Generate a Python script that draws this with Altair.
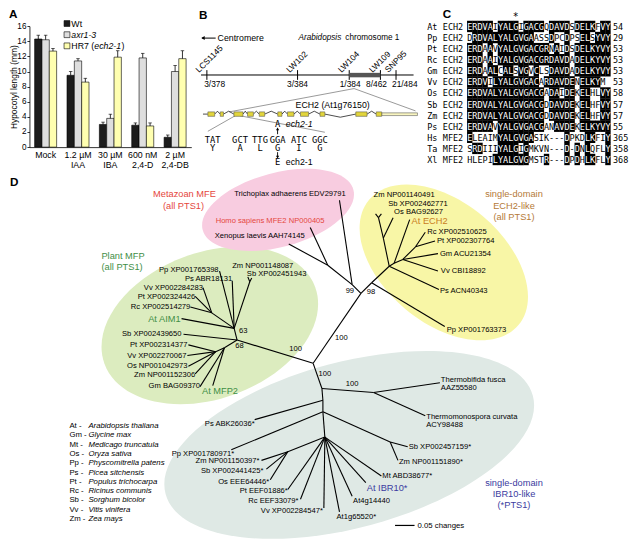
import altair as alt
import pandas as pd
from collections import Counter

# ---------------- frame ----------------
W, H = 622, 532          # drawing size in the browser
RW, RH = 638, 548        # reference picture frame (data coordinates)
K = W / RW
KY = H / RH
FONT = "Liberation Sans"
MONO = "DejaVu Sans Mono"

# ---------------- Panel A data ----------------
treatments = ["Mock", "1.2 µM|IAA", "30 µM|IBA", "600 nM|2,4-D", "2 µM|2,4-DB"]
genotypes = ["Wt", "axr1-3", "HR7 (ech2-1)"]
wt_mean = [14.3, 9.5, 3.0, 2.9, 1.3]
wt_err = [0.5, 0.5, 0.3, 0.3, 0.3]
axr_mean = [14.2, 11.4, 3.8, 11.8, 10.0]
axr_err = [0.6, 0.3, 0.55, 0.6, 0.8]
hr7_mean = [12.7, 8.6, 11.9, 2.8, 11.7]
hr7_err = [0.35, 0.5, 0.85, 0.4, 1.05]
bar_colors = ["#1c1c1c", "#dedede", "#ffffb0"]
y_ticks = [0, 2, 4, 6, 8, 10, 12, 14, 16]

# ---------------- Panel B data ----------------
markers = ["LCS1145", "LW102", "LW104", "LW109", "SNP95"]
marker_pos = [204, 297, 350, 382, 398]
marker_counts = ["3/378", "3/384", "1/384", "8/462", "21/484"]
count_pos = [212, 297, 351, 378, 407]
exons = [(205, 212), (217.7, 221), (231.7, 241), (245.7, 251.7), (257.7, 263.3), (276.7, 281),
         (286.7, 293.3), (300, 308.3), (320, 325), (356.7, 368.3), (377.7, 383.3)]
codons = ["TAT", "GCT", "TTG", "GGA", "ATC", "GGC"]
aminos = ["Y", "A", "L", "G", "I", "G"]

# ---------------- Panel C data ----------------
codes = ["At", "Pp", "Pt", "Rc", "Gm", "Vv", "Os", "Sb", "Zm", "Ps", "Hs", "Ta", "Xl"]
genes = ["ECH2"] * 10 + ["MFE2"] * 3
seqs = [
    "ERDVAIYALGIGACGQDAVDSDELKFVY",
    "DRDVALYALGVGAASSDPCDPSELSYVY",
    "ERDAAVYALGVGACGRNAIDSDELKYVY",
    "ERDAAIYALGVGACGRDAVDADELKYVY",
    "ERDAALCALSVGVCLSDAVDADELKYVY",
    "ERDVILYALGVGACARDAVDENELKYM ",
    "ERDVALYALGVGACGADAIDEKELHLVY",
    "ERDVALYALGVGACGDDAVDEKELHFVY",
    "ERDVALYALGVGACGDDAVDEKELHFVY",
    "ERDVAVYALGVGACGANAVDEKELKYVY",
    "ELEAIMYALGVGASIK---DPKDLKFIY",
    "SRDIIIYALGIGMKVN---D-DNLQFLY",
    "HLEPILYALGVGMSTR---DPDHLKFLY",
]
ends = [54, 29, 53, 53, 53, 53, 58, 57, 57, 55, 365, 358, 368]

# ---------------- Panel D data ----------------
nodes = {
    "C0": (313, 366), "N98": (362, 294), "N99": (353, 285), "Nmz": (328, 265),
    "Trichoplax": (340, 198), "Homo": (310, 226), "Xenopus": (288, 243),
    "Npp": (373, 283), "Pp763373": (448, 328), "Nech": (391, 266), "PsACN": (442, 290),
    "Nmono": (385, 237), "Nzs": (380, 216), "Zm140491": (377, 212), "Sb462771": (383, 212),
    "OsBAG": (395, 216), "Nech2": (396, 263), "AtECH2": (412, 218), "Ndic": (405, 259),
    "GmACU": (441, 253), "VvCBI": (441, 271), "Nrp": (418, 246), "Rc510625": (428, 231),
    "Pt307764": (438, 240),
    "N68": (235, 342), "N63": (232, 330), "Sb439650": (180, 336), "Nb": (222, 350),
    "Nc": (213, 354), "Pt314377": (185, 347), "Vv270067": (184, 358), "Os042973": (185, 369),
    "Zm152306": (192, 377), "GmBAG": (197, 390), "AtMFP2": (210, 389), "AtAIM1": (178, 320),
    "PsABR": (230, 281), "Nzs2": (248, 282), "Zm148087": (246, 277), "Sb451943": (250, 278),
    "Pp765398": (217, 271), "Nvpr": (209, 314), "Vv284283": (200, 288), "Pt324426": (192, 297),
    "Rc514279": (187, 308),
    "Nibr": (322, 392), "NTh": (375, 396), "Tfusca": (443, 386), "Tcurv": (428, 420),
    "Nb1": (323, 404), "PsABK": (253, 424), "Nb2": (323, 416), "Pp780971": (229, 455),
    "Nsz": (392, 447), "Sb457159": (410, 452), "Zm151890": (400, 466), "Nlow": (325, 442),
    "Nmono2": (287, 457), "Zm150397": (260, 466), "Sb441425": (265, 475), "Os64446": (269, 486),
    "Pt01886": (287, 496), "Rc33079": (300, 506), "Vv284547": (324, 515),
    "At1g65520": (340, 519), "At4g14440": (353, 503), "AtIBR10": (367, 489), "MtABD": (383, 482),
}
edges = [
    ("C0", "N98"), ("N98", "N99"), ("N99", "Trichoplax"), ("N99", "Nmz"), ("Nmz", "Homo"),
    ("Nmz", "Xenopus"), ("N98", "Npp"), ("Npp", "Pp763373"), ("Npp", "Nech"), ("Nech", "PsACN"),
    ("Nech", "Nmono"), ("Nmono", "Nzs"), ("Nzs", "Zm140491"), ("Nzs", "Sb462771"),
    ("Nmono", "OsBAG"), ("Nech", "Nech2"), ("Nech2", "AtECH2"), ("Nech2", "Ndic"),
    ("Ndic", "GmACU"), ("Ndic", "VvCBI"), ("Ndic", "Nrp"), ("Nrp", "Rc510625"), ("Nrp", "Pt307764"),
    ("C0", "N68"), ("N68", "N63"), ("N68", "Sb439650"), ("N68", "Nb"), ("Nb", "Nc"),
    ("Nc", "Pt314377"), ("Nc", "Vv270067"), ("Nc", "Os042973"), ("Nc", "Zm152306"),
    ("Nb", "GmBAG"), ("Nb", "AtMFP2"), ("N63", "AtAIM1"), ("N63", "PsABR"), ("N63", "Nzs2"),
    ("Nzs2", "Zm148087"), ("Nzs2", "Sb451943"), ("N63", "Pp765398"), ("N63", "Nvpr"),
    ("Nvpr", "Vv284283"), ("Nvpr", "Pt324426"), ("Nvpr", "Rc514279"),
    ("C0", "Nibr"), ("Nibr", "NTh"), ("NTh", "Tfusca"), ("NTh", "Tcurv"), ("Nibr", "Nb1"),
    ("Nb1", "PsABK"), ("Nb1", "Nb2"), ("Nb2", "Pp780971"), ("Nb2", "Nsz"), ("Nsz", "Sb457159"),
    ("Nsz", "Zm151890"), ("Nb2", "Nlow"), ("Nlow", "Nmono2"), ("Nmono2", "Zm150397"),
    ("Nmono2", "Sb441425"), ("Nmono2", "Os64446"), ("Nlow", "Pt01886"), ("Nlow", "Rc33079"),
    ("Nlow", "Vv284547"), ("Nlow", "At1g65520"), ("Nlow", "At4g14440"), ("Nlow", "AtIBR10"),
    ("Nlow", "MtABD"),
]
RED, GREEN, ORANGE, BLUE, BROWN = "#e5463d", "#3f8f46", "#c97d1e", "#3b3ba0", "#b57a38"
leaf_labels = [  # text, x, y, align, colour, size
    ("Trichoplax adhaerens EDV29791", 232, 192, "left", "black", 7.8),
    ("Homo sapiens MFE2 NP000405", 213, 219, "left", RED, 7.8),
    ("Xenopus laevis AAH74145", 212, 235, "left", "black", 7.8),
    ("Zm NP001148087", 230, 265.5, "left", "black", 7.8),
    ("Sb XP002451943", 245, 274, "left", "black", 7.8),
    ("Zm NP001140491", 375, 193, "left", "black", 7.8),
    ("Sb XP002462771", 390, 202, "left", "black", 7.8),
    ("Os BAG92627", 396, 210, "left", "black", 7.8),
    ("At ECH2", 414, 219, "left", ORANGE, 9.5),
    ("Rc XP002510625", 430, 231, "left", "black", 7.8),
    ("Pt XP002307764", 440, 240, "left", "black", 7.8),
    ("Gm ACU21354", 443, 253, "left", "black", 7.8),
    ("Vv CBI18892", 444, 271, "left", "black", 7.8),
    ("Ps ACN40343", 443, 292, "left", "black", 7.8),
    ("Pp XP001763373", 450, 332, "left", "black", 7.8),
    ("Thermobifida fusca", 444, 383, "left", "black", 7.8),
    ("AAZ55580", 444, 391.5, "left", "black", 7.8),
    ("Thermomonospora curvata", 429, 421, "left", "black", 7.8),
    ("ACY98488", 429, 429.5, "left", "black", 7.8),
    ("Sb XP002457159*", 411, 452, "left", "black", 7.8),
    ("Zm NP001151890*", 401, 468, "left", "black", 7.8),
    ("Mt ABD38677*", 384, 482, "left", "black", 7.8),
    ("At IBR10*", 368, 494, "left", BLUE, 9.5),
    ("At4g14440", 354, 508, "left", "black", 7.8),
    ("At1g65520*", 337, 524, "left", "black", 7.8),
    ("At MFP2", 199, 395, "left", GREEN, 9.5),
    ("Pp XP001765398", 216, 270, "right", "black", 7.8),
    ("Ps ABR18131", 230, 279, "right", "black", 7.8),
    ("Vv XP002284283", 200, 288, "right", "black", 7.8),
    ("Pt XP002324426", 192, 297.5, "right", "black", 7.8),
    ("Rc XP002514279", 187, 308, "right", "black", 7.8),
    ("At AIM1", 177, 320, "right", GREEN, 9.5),
    ("Sb XP002439650", 178, 336, "right", "black", 7.8),
    ("Pt XP002314377", 184, 347, "right", "black", 7.8),
    ("Vv XP002270067", 183, 358, "right", "black", 7.8),
    ("Os NP001042973", 184, 368.5, "right", "black", 7.8),
    ("Zm NP001152306", 192, 378, "right", "black", 7.8),
    ("Gm BAG09370", 197, 389, "right", "black", 7.8),
    ("Ps ABK26036*", 253, 428, "right", "black", 7.8),
    ("Pp XP001780971*", 232, 459, "right", "black", 7.8),
    ("Zm NP001150397*", 258, 467, "right", "black", 7.8),
    ("Sb XP002441425*", 262, 477, "right", "black", 7.8),
    ("Os EEE64446*", 268, 488, "right", "black", 7.8),
    ("Pt EEF01886*", 287, 498, "right", "black", 7.8),
    ("Rc EEF33079*", 298, 508, "right", "black", 7.8),
    ("Vv XP002284547*", 323, 518, "right", "black", 7.8),
]
bootstrap = [("99", 355, 291, "right"), ("98", 368, 293, "left"), ("100", 342, 340, "center"),
             ("100", 295, 351, "center"), ("100", 325, 377, "center"), ("100", 353, 387, "center"),
             ("63", 237, 333, "left"), ("68", 233, 348, "left")]
clade_labels = [
    ("Metazoan MFE", 181, 192, RED), ("(all PTS1)", 180, 203.5, RED),
    ("Plant MFP", 118, 255, GREEN), ("(all PTS1)", 117, 267, GREEN),
    ("single-domain", 519, 192, BROWN), ("ECH2-like", 519, 203.5, BROWN), ("(all PTS1)", 519, 215, BROWN),
    ("single-domain", 519, 489, BLUE), ("IBR10-like", 519, 500.5, BLUE), ("(*PTS1)", 519, 512, BLUE),
]
species_codes = ["At", "Gm", "Mt", "Os", "Pp", "Ps", "Pt", "Rc", "Sb", "Vv", "Zm"]
species_names = ["Arabidopsis thaliana", "Glycine max", "Medicago truncatula", "Oryza sativa",
                 "Physcomitrella patens", "Picea sitchensis", "Populus trichocarpa",
                 "Ricinus communis", "Sorghum bicolor", "Vitis vinifera", "Zea mays"]

# ---------------- helpers (canvas in reference coordinates) ----------------
SX = alt.Scale(domain=[0, RW], range=[0, W], nice=False, zero=False)
SY = alt.Scale(domain=[0, RH], range=[0, H], nice=False, zero=False)


def X(f):
    return alt.X(f, type="quantitative", scale=SX, axis=None)


def Y(f):
    return alt.Y(f, type="quantitative", scale=SY, axis=None)


def texts(rows, size, align="left", baseline="middle", font=FONT, style="normal",
          weight="normal", angle=0):
    df = pd.DataFrame(rows, columns=["t", "x", "y", "c"])
    kw = dict(align=align, baseline=baseline, font=font, fontSize=size * K,
              fontStyle=style, fontWeight=weight)
    if angle:
        kw["angle"] = angle
    return alt.Chart(df).mark_text(**kw).encode(
        x=X("x"), y=Y("y"), text="t:N", color=alt.Color("c:N", scale=None))


def segs(rows, width=1.0, color="black"):
    df = pd.DataFrame(rows, columns=["x1", "y1", "x2", "y2"])
    return alt.Chart(df).mark_rule(strokeWidth=width, color=color).encode(
        x=X("x1"), y=Y("y1"), x2="x2", y2="y2")


def rects(rows, fill, stroke=None, sw=0.0):
    df = pd.DataFrame(rows, columns=["x1", "y1", "x2", "y2"])
    kw = dict(fill=fill, strokeWidth=sw)
    if stroke:
        kw["stroke"] = stroke
    return alt.Chart(df).mark_rect(**kw).encode(x=X("x1"), y=Y("y1"), x2="x2", y2="y2")


def ellipse(cx, cy, rx, ry, angle, color):
    r = ry / rx
    path = f"M-1,0 A1,{r:.4f} 0 1,1 1,0 A1,{r:.4f} 0 1,1 -1,0 Z"
    return alt.Chart(pd.DataFrame({"x": [cx], "y": [cy]})).mark_point(
        shape=path, size=(2 * rx * K) ** 2, angle=angle, filled=True, fill=color,
        opacity=1, strokeWidth=0).encode(x=X("x"), y=Y("y"))


def arrowhead(x, y, shape, size=14):
    return alt.Chart(pd.DataFrame({"x": [x], "y": [y]})).mark_point(
        shape=shape, size=size, filled=True, color="black", opacity=1).encode(x=X("x"), y=Y("y"))


# ---------------- Panel A (own scales + axes) ----------------
rowsA = []
for g, means, errs in zip(genotypes, [wt_mean, axr_mean, hr7_mean], [wt_err, axr_err, hr7_err]):
    for t, m, e in zip(treatments, means, errs):
        rowsA.append({"treatment": t, "genotype": g, "mean": m, "top": m + e})
dfA = pd.DataFrame(rowsA)

ax_left, ax_right, ax_top, ax_bottom = 22, 188, 18.7, 143.3
xA_scale = alt.Scale(domain=treatments, range=[ax_left * K, ax_right * K],
                     paddingInner=0.32, paddingOuter=0.16)
yA_scale = alt.Scale(domain=[0, 16], range=[ax_bottom * KY, ax_top * KY], nice=False)
x_axis = alt.Axis(title=None, orient="bottom", offset=-(H - ax_bottom * KY),
                  labelExpr="split(datum.value, '|')", labelAngle=0, labelFont=FONT,
                  labelFontSize=9 * K, labelColor="black", ticks=False, domainColor="black",
                  domainWidth=0.8, labelPadding=3, labelLineHeight=10)
y_axis = alt.Axis(title="Hypocotyl length (mm)", values=y_ticks, orient="left",
                  offset=-ax_left * K, grid=False, tickSize=2.5, tickColor="black",
                  tickWidth=0.8, domainColor="black", domainWidth=0.8, labelFont=FONT,
                  labelFontSize=8.4 * K, labelColor="black", labelPadding=1, titleFont=FONT,
                  titleFontSize=8.6 * K, titleFontWeight="normal", titleColor="black",
                  titleAngle=270, titleBaseline="middle", titleAlign="center",
                  titleX=(5.5 - ax_left) * K, titleY=(ax_top + ax_bottom) / 2 * KY)
baseA = alt.Chart(dfA).encode(
    x=alt.X("treatment:N", sort=treatments, scale=xA_scale, axis=x_axis),
    xOffset=alt.XOffset("genotype:N", sort=genotypes,
                        scale=alt.Scale(domain=genotypes, paddingInner=0, paddingOuter=0)),
)
barsA = baseA.mark_bar(stroke="black", strokeWidth=0.6).encode(
    y=alt.Y("mean:Q", scale=yA_scale, axis=y_axis),
    fill=alt.Fill("genotype:N", scale=alt.Scale(domain=genotypes, range=bar_colors), legend=None),
)
errA = baseA.mark_rule(color="black", strokeWidth=0.8).encode(
    y=alt.Y("mean:Q", scale=yA_scale, axis=y_axis), y2="top:Q")
capA = baseA.mark_tick(color="black", thickness=0.9, size=3.5).encode(
    y=alt.Y("top:Q", scale=yA_scale, axis=y_axis))
panelA = alt.layer(barsA, errA, capA)

# ---------------- canvas layers ----------------
layers = []

# ellipses of panel D
layers.append(ellipse(350, 450, 195, 85, 345, "#dfe9e5"))
layers.append(ellipse(207, 327, 115, 75, 340, "#dcecbf"))
layers.append(ellipse(277, 208, 80, 38, 345, "#f8cce0"))
layers.append(ellipse(447, 262, 100, 62, 40, "#f8f6a6"))

# panel letters
layers.append(texts([("A", 1, 6, "black"), ("B", 196, 7, "black"), ("C", 446, 6, "black"),
                     ("D", 2, 179, "black")], 12, weight="bold"))

# panel A legend
legend_y = [16, 27.5, 39]
layers.append(alt.Chart(pd.DataFrame({"x1": [57.5] * 3, "x2": [63.5] * 3,
                                      "y1": [v - 3 for v in legend_y],
                                      "y2": [v + 3 for v in legend_y],
                                      "c": bar_colors})).mark_rect(
    stroke="black", strokeWidth=0.6).encode(x=X("x1"), x2="x2", y=Y("y1"), y2="y2",
                                            fill=alt.Fill("c:N", scale=None)))
layers.append(texts([("Wt", 65, legend_y[0], "black"), ("HR7 (", 65, legend_y[2], "black"),
                     (")", 116.5, legend_y[2], "black")], 9))
layers.append(texts([("axr1-3", 65, legend_y[1], "black"), ("ech2-1", 88.5, legend_y[2], "black")],
                    9, style="italic"))

# panel B
layers.append(segs([(199, 31, 213, 31)], 1.0))
layers.append(arrowhead(200, 31, "triangle-left", 16))
layers.append(texts([("Centromere", 215, 31, "black")], 9))
layers.append(texts([("chromosome 1", 346, 31, "black")], 8.4))
layers.append(texts([("Arabidopsis", 298, 31, "black")], 8.4, style="italic"))
layers.append(segs([(198, 69, 416, 69)], 1.0))
layers.append(segs([(m, 64, m, 74) for m in marker_pos], 1.0))
layers.append(rects([(350, 66.8, 382, 71.4)], "#555555"))
layers.append(texts([(c, x, 78.5, "black") for c, x in zip(marker_counts, count_pos)], 8.6,
                    align="center"))
layers.append(texts([(n, m - 8, 67, "black") for n, m in zip(markers, marker_pos)], 8.6,
                    align="left", baseline="alphabetic", angle=315))
layers.append(segs([(355, 83, 227, 107), (355, 83, 418, 106), (233, 111, 205, 127),
                    (238, 111, 325, 128)], 0.6, "#555555"))
# introns as chevrons
intr = []
for (a1, b1), (a2, b2) in zip(exons[:-1], exons[1:]):
    mid = (b1 + a2) / 2
    peak = 112.5 if a2 - b1 > 20 else 106.3
    intr.append((b1, 109.3, mid, peak))
    intr.append((mid, peak, a2, 109.3))
layers.append(segs(intr, 0.7))
layers.append(segs([(200, 109.3, 205, 109.3)], 0.7))
layers.append(rects([(383.3, 108, 420, 110.8)], "#f8f5c0", "#444444", 0.5))
layers.append(rects([(a, 107, b, 111.6) for a, b in exons], "#e2d53c", "#444444", 0.5))
layers.append(texts([("ECH2 (At1g76150)", 333, 100, "black")], 9, align="center"))
codon_x = [210, 238, 258.5, 276.5, 298.5, 320]
layers.append(texts([(c, x, 135.5, "black") for c, x in zip(codons, codon_x)] +
                    [(a, x, 144.5, "black") for a, x in zip(aminos, codon_x)] +
                    [("A", 276.5, 119.5, "black"), ("E", 276.5, 158.5, "black")],
                    9, align="center", font=MONO))
layers.append(segs([(276.5, 130, 276.5, 125), (276.5, 148.5, 276.5, 153)], 0.9))
layers.append(arrowhead(276.5, 124.5, "triangle-up", 10))
layers.append(arrowhead(276.5, 153.5, "triangle-down", 10))
layers.append(texts([("ech2-1", 285, 120, "black")], 9, style="italic"))
layers.append(texts([("ech2-1", 285, 158.5, "black")], 9))

# panel C
c_x0, c_w, c_row0, c_step = 471, 5.25, 19, 11.42
consensus = []
for col in range(len(seqs[0])):
    cnt = Counter(s[col] for s in seqs if s[col] not in "- ")
    cnt10 = Counter(s[col] for s in seqs[:10] if s[col] not in "- ")
    consensus.append(max(cnt, key=lambda ch: (cnt[ch], cnt10[ch])))
cell_rows, char_rows = [], []
for r, s in enumerate(seqs):
    yc = c_row0 + r * c_step
    for c, ch in enumerate(s):
        x0 = c_x0 + c * c_w
        shaded = ch not in "- " and ch == consensus[c]
        if shaded:
            cell_rows.append((x0 - 0.15, yc - c_step / 2 - 0.15, x0 + c_w + 0.15, yc + c_step / 2 + 0.15))
        if ch != " ":
            char_rows.append((ch, x0 + c_w / 2, yc + 0.5, "white" if shaded else "black"))
layers.append(rects(cell_rows, "black"))
layers.append(texts(char_rows, 8.7, align="center", font=MONO))
layers.append(texts([(cd, 430, c_row0 + i * c_step + 0.5, "black") for i, cd in enumerate(codes)] +
                    [(g, 446, c_row0 + i * c_step + 0.5, "black") for i, g in enumerate(genes)] +
                    [(str(e), 620.5, c_row0 + i * c_step + 0.5, "black") for i, e in enumerate(ends)],
                    8.7, font=MONO))
layers.append(texts([("*", c_x0 + 9.5 * c_w, 9, "black")], 10, align="center", font=MONO))

# panel D tree
layers.append(segs([nodes[a] + nodes[b] for a, b in edges], 1.1))
for align in ["left", "right"]:
    for sz in [7.8, 9.5]:
        rows = [(t, x, y, col) for t, x, y, al, col, s in leaf_labels if al == align and s == sz]
        if rows:
            layers.append(texts(rows, sz, align=align))
for align in ["left", "right", "center"]:
    rows = [(t, x, y, "black") for t, x, y, al in bootstrap if al == align]
    layers.append(texts(rows, 7.8, align=align))
layers.append(texts([(t, x, y, c) for t, x, y, c in clade_labels], 9.5, align="center"))
layers.append(segs([(397, 533, 417, 533)], 1.2))
layers.append(texts([("0.05 changes", 420, 534, "black")], 8))
layers.append(texts([(f"{c} -", 63, 430.5 + i * 9.6, "black") for i, c in enumerate(species_codes)], 8))
layers.append(texts([(n, 82.5, 430.5 + i * 9.6, "black") for i, n in enumerate(species_names)], 8,
                    style="italic"))

canvas = alt.layer(*layers)

chart = alt.layer(panelA, canvas).resolve_scale(
    x="independent", y="independent"
).properties(
    width=W, height=H, padding=0, autosize=alt.AutoSizeParams(type="none"),
    background="white",
).configure_view(stroke=None)

chart.save("out.html", embed_options={"renderer": "svg", "actions": False})
